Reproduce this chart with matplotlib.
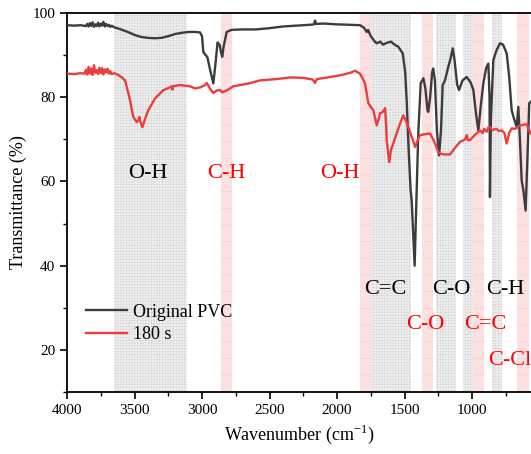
import numpy as np
import matplotlib
matplotlib.use('Agg')
import matplotlib.pyplot as plt

plt.rcParams['font.family'] = ['Liberation Serif', 'DejaVu Serif']
plt.rcParams['hatch.linewidth'] = 0.4

# Original PVC spectrum (wavenumber, transmittance)
pvc_w = [4000, 3950, 3900, 3860, 3850, 3840, 3830, 3820, 3810, 3800, 3790, 3780, 3770,
         3760, 3750, 3740, 3730, 3720, 3710, 3700, 3690, 3680, 3670, 3650, 3600, 3550,
         3500, 3450, 3400, 3350, 3300, 3250, 3200, 3150, 3100, 3050, 3015, 3000, 2990,
         2960, 2940, 2916, 2900, 2885, 2870, 2858, 2850, 2840, 2817, 2780, 2700, 2600,
         2500, 2400, 2300, 2200, 2170, 2163, 2155, 2100, 2000, 1900, 1830, 1800, 1780,
         1770, 1750, 1720, 1706, 1680, 1660, 1632, 1600, 1570, 1546, 1513, 1495, 1484,
         1470, 1455, 1447, 1435, 1425, 1415, 1398, 1380, 1360, 1345, 1330, 1324, 1310,
         1295, 1287, 1275, 1260, 1244, 1230, 1217, 1200, 1176, 1160, 1143, 1130, 1110,
         1096, 1070, 1039, 1010, 990, 970, 953, 935, 916, 895, 879, 870, 867, 860, 842,
         820, 793, 770, 743, 725, 706, 690, 669, 657, 645, 632, 620, 603, 590, 576, 563]
pvc_t = [97.1, 97.0, 97.1, 96.9, 97.4, 96.8, 97.6, 96.9, 97.8, 96.7, 97.3, 96.9, 97.7,
         96.8, 97.5, 97.0, 97.9, 96.8, 97.4, 96.9, 97.2, 96.7, 97.0, 96.6, 96.1, 95.5,
         94.8, 94.3, 94.1, 94.0, 94.1, 94.5, 95.0, 95.3, 95.5, 95.5, 95.4, 94.5, 90.7,
         89.5, 86.5, 83.3, 88.0, 93.0, 92.5, 90.5, 89.6, 92.0, 95.5, 96.0, 96.1, 96.1,
         96.4, 96.8, 97.0, 97.2, 97.3, 98.2, 97.4, 97.5, 97.3, 97.2, 97.1, 96.5, 95.5,
         96.0, 94.5, 93.2, 92.8, 93.2, 92.5, 92.9, 93.2, 92.4, 92.0, 90.4, 86.0, 79.3,
         68.0, 58.0, 55.5, 47.0, 40.0, 52.0, 71.4, 83.3, 84.5, 82.0, 77.0, 76.5, 80.0,
         86.0, 86.8, 84.0, 72.0, 66.2, 72.0, 82.9, 84.0, 87.2, 89.0, 91.6, 89.0, 83.0,
         81.7, 84.0, 84.8, 83.5, 81.7, 76.0, 72.1, 78.0, 83.3, 87.0, 88.0, 80.0, 56.3,
         75.0, 88.8, 91.0, 92.8, 92.5, 90.4, 85.0, 76.9, 75.0, 72.9, 77.7, 70.0, 60.2,
         58.0, 53.1, 65.0, 78.6, 79.0]

# 180 s treated sample
s180_w = [4000, 3950, 3900, 3870, 3860, 3850, 3840, 3830, 3820, 3810, 3800, 3790, 3780,
          3770, 3760, 3750, 3740, 3730, 3720, 3710, 3700, 3690, 3680, 3670, 3650, 3620,
          3590, 3570, 3550, 3533, 3509, 3484, 3470, 3464, 3455, 3442, 3420, 3398, 3348,
          3286, 3240, 3225, 3220, 3212, 3163, 3089, 3052, 3015, 2978, 2965, 2940, 2916,
          2890, 2867, 2850, 2817, 2768, 2650, 2570, 2450, 2348, 2250, 2180, 2163, 2150,
          2050, 1978, 1900, 1867, 1830, 1810, 1793, 1768, 1745, 1731, 1706, 1690, 1681,
          1660, 1644, 1635, 1632, 1613, 1600, 1583, 1558, 1530, 1509, 1490, 1472, 1440,
          1422, 1400, 1385, 1350, 1311, 1280, 1250, 1237, 1200, 1163, 1130, 1089, 1050,
          1039, 1030, 1015, 980, 941, 920, 910, 891, 880, 867, 850, 820, 800, 780, 760,
          743, 725, 706, 680, 644, 595, 575, 563]
s180_t = [85.6, 85.5, 85.7, 85.6, 86.5, 85.4, 87.2, 85.6, 86.8, 85.3, 87.6, 85.8, 86.4,
          85.5, 87.0, 85.7, 86.9, 85.4, 86.6, 85.9, 86.8, 85.6, 86.2, 85.5, 85.7, 85.3,
          84.6, 84.0, 81.5, 79.3, 75.3, 74.1, 74.6, 75.3, 74.0, 72.9, 75.0, 76.9, 79.7,
          81.7, 82.3, 82.6, 81.8, 82.6, 82.9, 82.6, 82.1, 82.3, 82.9, 83.4, 82.0, 81.0,
          81.6, 81.7, 81.2, 81.6, 82.6, 83.3, 84.0, 84.3, 84.7, 84.6, 84.2, 83.4, 84.3,
          84.8, 85.2, 85.8, 86.3, 85.6, 84.5, 83.3, 78.6, 77.5, 76.9, 73.3, 75.0, 76.2,
          76.5, 77.4, 73.0, 69.8, 64.6, 67.5, 69.0, 71.4, 74.0, 75.7, 74.5, 72.9, 70.0,
          68.2, 70.0, 71.0, 71.2, 71.4, 69.5, 67.0, 66.6, 66.4, 66.4, 67.8, 69.4, 70.0,
          71.0, 69.8, 69.8, 71.0, 72.1, 71.5, 72.5, 71.8, 72.8, 72.9, 72.2, 72.5, 72.0,
          72.1, 71.5, 69.0, 71.5, 72.6, 72.5, 73.3, 73.6, 72.0, 71.4]

# band regions
gray_bands = [(3650, 3110), (1750, 1455), (1265, 1115), (1070, 990), (850, 775)]
pink_bands = [(2860, 2780), (1830, 1750), (1370, 1290), (990, 910), (667, 580)]

# band labels: (text, wavenumber, transmittance)
black_labels = [('O-H', 3400, 62), ('C=C', 1644, 34.3), ('C-O', 1151, 34.3), ('C-H', 752, 34.3)]
red_labels = [('C-H', 2822, 62), ('O-H', 1980, 62), ('C-O', 1348, 26), ('C=C', 902, 26)]

fig = plt.figure(figsize=(5.31, 4.54), dpi=100)
ax = fig.add_axes([67 / 531, 62 / 454, 464 / 531, 379 / 454])

for a, b in gray_bands:
    ax.axvspan(a, b, facecolor='#f1f1f1', edgecolor='#d6d6d6', hatch='++++++', linewidth=0, zorder=0)
for a, b in pink_bands:
    ax.axvspan(a, b, facecolor='#fde0e0', edgecolor='#f6caca', hatch='-', linewidth=0, zorder=0)

ax.plot(pvc_w, pvc_t, color='#3c3c3c', lw=1.7, label='Original PVC', zorder=3)
ax.plot(s180_w, s180_t, color='#ee3b3b', lw=1.7, label='180 s', zorder=3)

for txt, x, y in black_labels:
    ax.text(x, y, txt, color='black', fontsize=16, ha='center', va='center', zorder=4)
for txt, x, y in red_labels:
    ax.text(x, y, txt, color='#ff0000', fontsize=16, ha='center', va='center', zorder=4)
ax.text(881, 17.4, 'C-Cl', color='#ff0000', fontsize=16, ha='left', va='center', zorder=4)

ax.set_xlim(4000, 563)
ax.set_ylim(10, 100)
ax.set_xticks([4000, 3500, 3000, 2500, 2000, 1500, 1000])
ax.set_xticks(np.arange(3750, 563, -500), minor=True)
ax.set_yticks([20, 40, 60, 80, 100])
ax.set_yticks([10, 30, 50, 70, 90], minor=True)
ax.tick_params(axis='both', which='major', direction='out', length=5, width=1.2, labelsize=11)
ax.tick_params(axis='both', which='minor', direction='out', length=3, width=1.0)
for s in ax.spines.values():
    s.set_linewidth(1.3)
ax.spines['right'].set_visible(False)

ax.set_xlabel('Wavenumber (cm$^{\\mathregular{-1}}$)', fontsize=13)
ax.set_ylabel('Transmittance (%)', fontsize=13)

ax.legend(loc='lower left', bbox_to_anchor=(0.013, 0.096), frameon=False, fontsize=13,
          handlelength=2.3, handletextpad=0.3, labelspacing=0.3, borderaxespad=0.3)

fig.savefig('out.png', dpi=100)
